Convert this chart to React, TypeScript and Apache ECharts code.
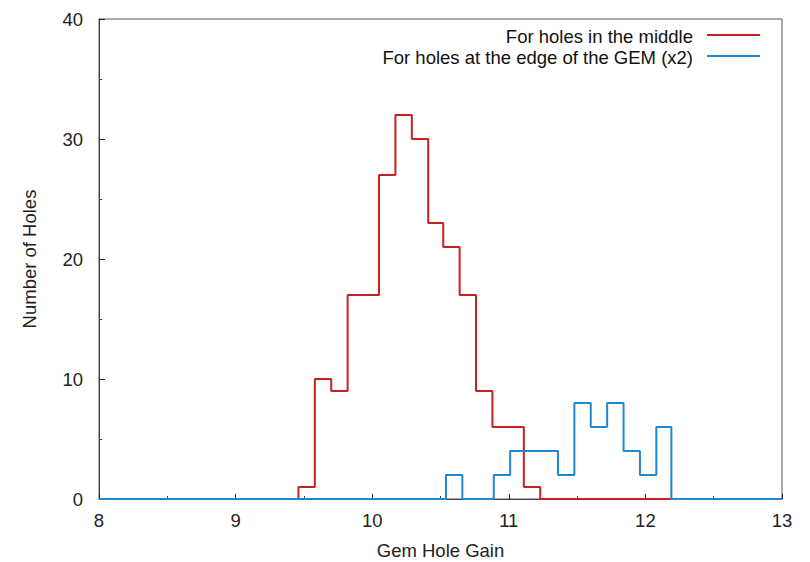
import React, { useEffect, useRef } from "react";
import * as echarts from "echarts";

const middleName = "For holes in the middle";
const edgeName = "For holes at the edge of the GEM (x2)";

const middleEdges = [9.46, 9.58, 9.70, 9.82, 9.93, 10.05, 10.17, 10.29, 10.41, 10.52, 10.64, 10.76, 10.88, 11.00, 11.11, 11.23];
const middleCounts = [1, 10, 9, 17, 17, 27, 32, 30, 23, 21, 17, 9, 6, 6, 1];

const edgeEdges = [10.54, 10.66, 10.78, 10.89, 11.01, 11.13, 11.25, 11.36, 11.48, 11.60, 11.72, 11.84, 11.96, 12.08, 12.19];
const edgeCounts = [2, 0, 0, 2, 4, 4, 4, 2, 8, 6, 8, 4, 2, 6];

const xMin = 8;
const xMax = 13;
const yMin = 0;
const yMax = 40;

function stepPoints(edges: number[], counts: number[]): number[][] {
  const pts: number[][] = [[xMin, 0], [edges[0], 0]];
  for (let i = 0; i < counts.length; i++) {
    pts.push([edges[i], counts[i]]);
    pts.push([edges[i + 1], counts[i]]);
  }
  pts.push([edges[edges.length - 1], 0]);
  pts.push([xMax, 0]);
  return pts;
}

const RED = "#c81f1f";
const BLUE = "#1f88d2";
const FONT = "Liberation Sans";
const FS = 18.5;

export default function App() {
  const ref = useRef<HTMLDivElement>(null);
  useEffect(() => {
    if (!ref.current) return;
    const chart = echarts.init(ref.current, null, { renderer: "svg" });
    chart.setOption({
      animation: false,
      backgroundColor: "#ffffff",
      grid: {
        left: 99,
        right: 28,
        top: 19,
        bottom: 63,
        containLabel: false,
        outerBoundsMode: "none",
        show: true,
        borderColor: "#555",
        borderWidth: 1,
      },
      xAxis: {
        type: "value",
        min: xMin,
        max: xMax,
        interval: 1,
        name: "Gem Hole Gain",
        nameLocation: "middle",
        nameGap: 42,
        nameTextStyle: { fontFamily: FONT, fontSize: FS, color: "#222" },
        axisLine: { show: true, lineStyle: { color: "#444", width: 1 } },
        axisTick: { show: true, inside: true, length: 5, lineStyle: { color: "#222" } },
        minorTick: { show: true, splitNumber: 2, length: 3, lineStyle: { color: "#444" } },
        axisLabel: { fontFamily: FONT, fontSize: FS, color: "#222", margin: 12 },
        splitLine: { show: false },
      },
      yAxis: {
        type: "value",
        min: yMin,
        max: yMax,
        interval: 10,
        name: "Number of Holes",
        nameLocation: "middle",
        nameGap: 60,
        nameRotate: 90,
        nameTextStyle: { fontFamily: FONT, fontSize: FS, color: "#222" },
        axisLine: { show: true, lineStyle: { color: "#444", width: 1 } },
        axisTick: { show: true, inside: true, length: 6, lineStyle: { color: "#222" } },
        minorTick: { show: true, splitNumber: 2, length: 3, lineStyle: { color: "#444" } },
        axisLabel: { fontFamily: FONT, fontSize: FS, color: "#222", margin: 16 },
        splitLine: { show: false },
      },
      series: [
        {
          name: middleName,
          type: "line",
          data: stepPoints(middleEdges, middleCounts),
          showSymbol: false,
          symbol: "none",
          lineStyle: { color: RED, width: 2 },
          itemStyle: { color: RED },
          z: 3,
        },
        {
          name: edgeName,
          type: "line",
          data: stepPoints(edgeEdges, edgeCounts),
          showSymbol: false,
          symbol: "none",
          lineStyle: { color: BLUE, width: 2 },
          itemStyle: { color: BLUE },
          z: 4,
        },
      ],
      graphic: [
        {
          type: "text",
          x: 693,
          y: 36,
          style: { text: middleName, fontFamily: FONT, fontSize: FS, fill: "#111", textAlign: "right", textVerticalAlign: "middle" },
        },
        {
          type: "line",
          shape: { x1: 707, y1: 35, x2: 760, y2: 35 },
          style: { stroke: RED, lineWidth: 2 },
        },
        {
          type: "text",
          x: 693,
          y: 57,
          style: { text: edgeName, fontFamily: FONT, fontSize: FS, fill: "#111", textAlign: "right", textVerticalAlign: "middle" },
        },
        {
          type: "line",
          shape: { x1: 707, y1: 56, x2: 760, y2: 56 },
          style: { stroke: BLUE, lineWidth: 2 },
        },
      ],
    });
    return () => chart.dispose();
  }, []);
  return <div ref={ref} style={{ width: 810, height: 562, position: "absolute", left: 0, top: 0 }} />;
}
